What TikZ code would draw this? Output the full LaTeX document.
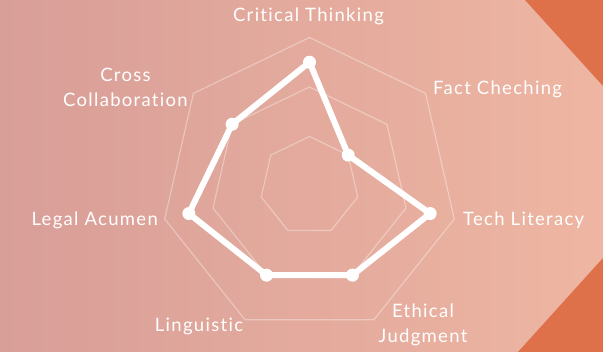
\documentclass[tikz,border=0pt]{standalone}
\usepackage{fontspec}
\setmainfont{Lato}[LetterSpace=7, Ligatures=NoCommon]
\definecolor{bgleft}{RGB}{216,158,152}
\definecolor{bgright}{RGB}{238,182,162}
\definecolor{accent}{RGB}{222,112,74}
\begin{document}
\begin{tikzpicture}[x=1pt, y=1pt,
    lbl/.style={text=white, inner sep=0pt, align=center, font=\fontsize{18.5}{25}\selectfont},
    ring/.style={draw=white, opacity=0.35, line width=1.2pt, line join=miter},
    score/.style={draw=white, line width=6pt, line join=round}]
    
    \shade[left color=bgleft, right color=bgright] (0,0) rectangle (603,352);
    \fill[accent] (525,352) -- (603,352) -- (603,266) -- cycle;
    \fill[accent] (603,94) -- (603,0) -- (518,0) -- cycle;
    
    \begin{scope}[shift={(309.5,166)}]
    \foreach \r in {1,2,3}
    \draw[ring] (90:\r*49.5) \foreach \k in {1,...,6} {-- (90-\k*360/7:\r*49.5)} -- cycle;
    
    \foreach \v [count=\k from 0] in {2.5,1,2.5,2,2,2.5,2}
    \coordinate (p\k) at (90-\k*360/7:\v*49.5);
    \draw[score] (p0) -- (p1) -- (p2) -- (p3) -- (p4) -- (p5) -- (p6) -- cycle;
    \foreach \k in {0,...,6}
    \fill[white] (p\k) circle (6.5);
    \end{scope}
    
    \node[lbl, anchor=base] (crit) at (308.5,330) {Critical Thinking};
    \node[lbl, anchor=base west] (fact) at (433,257) {Fact Cheching};
    \node[lbl, anchor=base west] (tech) at (463,126) {Tech Literacy};
    \node[lbl, anchor=north] (ethic) at (423,48) {Ethical\\Judgment};
    \node[lbl, anchor=base] (ling) at (199,20) {Linguistic};
    \node[lbl, anchor=base east] (legal) at (158,126) {Legal Acumen};
    \node[lbl, anchor=north] (cross) at (125.5,284) {Cross\\Collaboration};
   
\end{tikzpicture}
\end{document}
